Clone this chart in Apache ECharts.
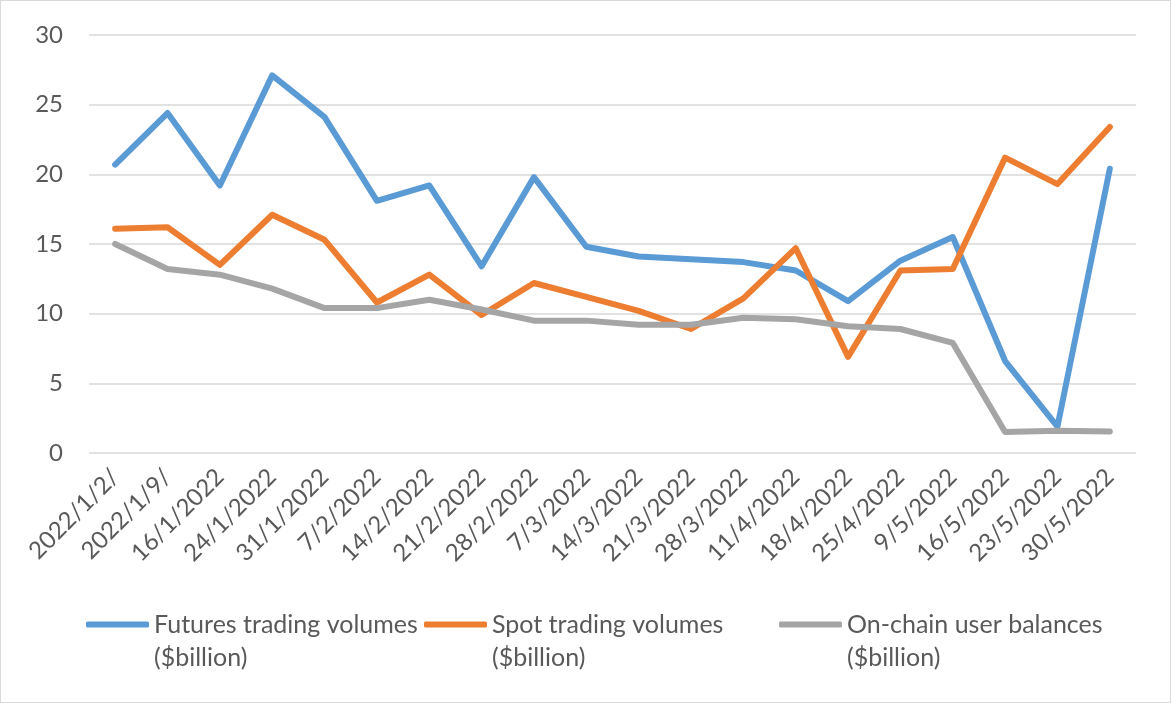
<!DOCTYPE html>
<html><head><meta charset="utf-8">
<script src="https://cdn.jsdelivr.net/npm/echarts@6/dist/echarts.min.js"></script>
<style>
html,body{margin:0;padding:0;background:#fff;}
#c{width:1171px;height:703px;box-sizing:border-box;border:1px solid #d9d9d9;}
</style></head>
<body><div id="c"></div>
<script>
const categories = ['2022/1/2/','2022/1/9/','16/1/2022','24/1/2022','31/1/2022','7/2/2022','14/2/2022','21/2/2022','28/2/2022','7/3/2022','14/3/2022','21/3/2022','28/3/2022','11/4/2022','18/4/2022','25/4/2022','9/5/2022','16/5/2022','23/5/2022','30/5/2022'];
const futures = [20.7,24.4,19.2,27.1,24.1,18.1,19.2,13.4,19.8,14.8,14.1,13.9,13.7,13.1,10.9,13.8,15.5,6.6,1.9,20.4];
const spot = [16.1,16.2,13.5,17.1,15.3,10.8,12.8,9.9,12.2,11.2,10.2,8.9,11.1,14.7,6.9,13.1,13.2,21.2,19.3,23.4];
const onchain = [15.0,13.2,12.8,11.8,10.4,10.4,11.0,10.3,9.5,9.5,9.2,9.2,9.7,9.6,9.1,8.9,7.9,1.5,1.6,1.55];
const yTicks = {min:0, max:30, interval:5};
const names = ['Futures trading volumes\n($billion)','Spot trading volumes\n($billion)','On-chain user balances\n($billion)'];
const colors = ['#5B9BD5','#ED7D31','#A5A5A5'];
const font = 'Lato, "Open Sans", sans-serif';

const chart = echarts.init(document.getElementById('c'));
const legendBase = {
  orient:'horizontal', top:569, itemWidth:63, itemHeight:6, icon:'roundRect', itemGap:0,
  formatter: n => '\n' + n,
  textStyle:{color:'#595959', fontSize:25, fontFamily:font, lineHeight:33}
};
const series = [futures, spot, onchain].map((d,i)=>({
  name:names[i], type:'line', data:d, showSymbol:false, symbol:'none',
  lineStyle:{width:6, color:colors[i], cap:'round', join:'round'},
  itemStyle:{color:colors[i]}, animation:false
}));
chart.setOption({
  animation:false,
  grid:{left:88, right:34, top:34, bottom:249},
  xAxis:{type:'category', data:categories, boundaryGap:true,
    axisLine:{show:false}, axisTick:{show:false},
    axisLabel:{rotate:45, interval:0, color:'#595959', fontSize:24, fontFamily:font, margin:20}},
  yAxis:{type:'value', min:yTicks.min, max:yTicks.max, interval:yTicks.interval,
    axisLine:{show:false}, axisTick:{show:false},
    axisLabel:{color:'#595959', fontSize:24, fontFamily:font, margin:26},
    splitLine:{lineStyle:{color:'#d9d9d9', width:1.5}}},
  legend:[
    Object.assign({}, legendBase, {left:80, data:[names[0]]}),
    Object.assign({}, legendBase, {left:418, data:[names[1]]}),
    Object.assign({}, legendBase, {left:773, data:[names[2]]})
  ],
  series
});
</script></body></html>
